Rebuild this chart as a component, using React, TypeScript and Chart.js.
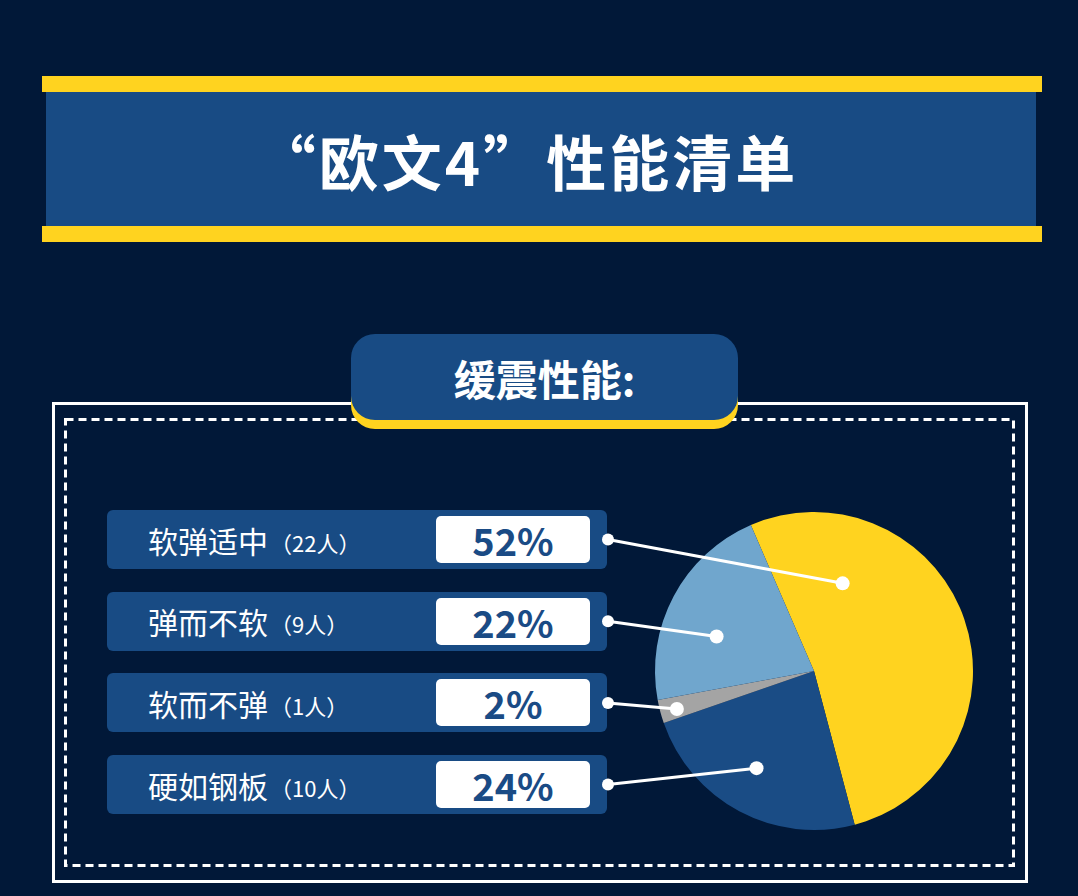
import { useEffect, useRef } from "react";
import { Chart, registerables } from "chart.js";

Chart.register(...registerables);

// rows, top to bottom
const categories = ["软弹适中", "弹而不软", "软而不弹", "硬如钢板"];
const counts = [22, 9, 1, 10];
const percents = ["52%", "22%", "2%", "24%"];
const sliceColors = ["#FFD31F", "#70A6CD", "#A4A4A4", "#1A4C85"];
// clockwise order of the slices, starting at the yellow one
const pieOrder = [0, 3, 2, 1];

const BG = "#011838";
const BLUE = "#184B84";
const YELLOW = "#FFD31F";

const ROW_TOP = 510;
const ROW_STEP = 81.7;
const ROW_H = 59;
const CANVAS_LEFT = 590;
const CANVAS_TOP = 500;

// where each leader line ends inside its slice: t = share of the slice angle, r = share of the radius
const anchors = [
  { t: 0.22, r: 0.58 },
  { t: 0.39, r: 0.65 },
  { t: 0.42, r: 0.895 },
  { t: 0.53, r: 0.71 }
];

const leaderLines = {
  id: "leaderLines",
  afterDatasetsDraw(chart: Chart) {
    const ctx = chart.ctx;
    const meta = chart.getDatasetMeta(0);
    meta.data.forEach((el, k) => {
      const row = pieOrder[k];
      const { x, y, startAngle, endAngle, outerRadius } = (el as any).getProps(
        ["x", "y", "startAngle", "endAngle", "outerRadius"],
        true
      );
      const a = startAngle + anchors[row].t * (endAngle - startAngle);
      const r = anchors[row].r * outerRadius;
      const px = x + Math.cos(a) * r;
      const py = y + Math.sin(a) * r;
      const lx = 608 - CANVAS_LEFT;
      const ly = ROW_TOP + row * ROW_STEP + ROW_H / 2 - CANVAS_TOP;
      ctx.save();
      ctx.strokeStyle = "#ffffff";
      ctx.fillStyle = "#ffffff";
      ctx.lineWidth = 3;
      ctx.beginPath();
      ctx.moveTo(lx, ly);
      ctx.lineTo(px, py);
      ctx.stroke();
      ctx.beginPath();
      ctx.arc(lx, ly, 6, 0, Math.PI * 2);
      ctx.fill();
      ctx.beginPath();
      ctx.arc(px, py, 7, 0, Math.PI * 2);
      ctx.fill();
      ctx.restore();
    });
  }
};

function PieChart() {
  const canvasRef = useRef<HTMLCanvasElement | null>(null);

  useEffect(() => {
    if (!canvasRef.current) {
      return undefined;
    }
    const chart = new Chart(canvasRef.current, {
      type: "pie",
      data: {
        labels: pieOrder.map((i) => categories[i]),
        datasets: [
          {
            data: pieOrder.map((i) => counts[i]),
            backgroundColor: pieOrder.map((i) => sliceColors[i]),
            borderWidth: 0
          }
        ]
      },
      options: {
        responsive: false,
        animation: false,
        rotation: -23.4,
        layout: { padding: { left: 65, right: 27, top: 12, bottom: 12 } },
        plugins: {
          legend: { display: false },
          tooltip: { enabled: false }
        }
      },
      plugins: [leaderLines]
    });
    return () => chart.destroy();
  }, []);

  return (
    <canvas
      ref={canvasRef}
      width={410}
      height={342}
      style={{ position: "absolute", left: CANVAS_LEFT, top: CANVAS_TOP, width: 410, height: 342 }}
    />
  );
}

const font = '"Noto Sans CJK SC", "Noto Sans", sans-serif';

export default function App() {
  return (
    <div
      style={{
        position: "absolute",
        left: 0,
        top: 0,
        width: 1078,
        height: 896,
        background: BG,
        overflow: "hidden",
        fontFamily: font,
        color: "#ffffff"
      }}
    >
      {/* title banner */}
      <div style={{ position: "absolute", left: 42, top: 76, width: 1000, height: 16, background: YELLOW }} />
      <div
        style={{
          position: "absolute",
          left: 46,
          top: 92,
          width: 990,
          height: 134,
          boxSizing: "border-box",
          paddingRight: 28,
          background: BLUE,
          display: "flex",
          alignItems: "center",
          justifyContent: "center",
          fontSize: 60,
          fontWeight: 700,
          letterSpacing: 3
        }}
      >
        “欧文4”性能清单
      </div>
      <div style={{ position: "absolute", left: 42, top: 226, width: 1000, height: 16, background: YELLOW }} />

      {/* frame */}
      <svg width={1078} height={896} style={{ position: "absolute", left: 0, top: 0 }}>
        <rect x={53.5} y={403.5} width={973} height={478} fill="none" stroke="#ffffff" strokeWidth={3} />
        <rect
          x={65.5}
          y={419.5}
          width={948}
          height={446}
          fill="none"
          stroke="#ffffff"
          strokeWidth={3}
          strokeDasharray="8 5"
        />
      </svg>

      {/* section tab */}
      <div
        style={{
          position: "absolute",
          left: 351,
          top: 342,
          width: 387,
          height: 87,
          background: YELLOW,
          borderRadius: 24
        }}
      />
      <div
        style={{
          position: "absolute",
          left: 351,
          top: 334,
          width: 387,
          height: 86,
          background: BLUE,
          borderRadius: 24,
          display: "flex",
          alignItems: "center",
          justifyContent: "center",
          fontSize: 42,
          fontWeight: 700
        }}
      >
        缓震性能:
      </div>

      {/* rows */}
      {categories.map((name, i) => (
        <div
          key={name}
          style={{
            position: "absolute",
            left: 107,
            top: ROW_TOP + i * ROW_STEP,
            width: 500,
            height: ROW_H,
            background: BLUE,
            borderRadius: 6
          }}
        >
          <div
            style={{
              position: "absolute",
              left: 41,
              top: 0,
              height: ROW_H,
              display: "flex",
              alignItems: "center",
              whiteSpace: "nowrap"
            }}
          >
            <span style={{ fontSize: 30 }}>{name}</span>
            <span style={{ fontSize: 22, marginLeft: 2, marginTop: 4 }}>（{counts[i]}人）</span>
          </div>
          <div
            style={{
              position: "absolute",
              left: 329,
              top: 6,
              width: 154,
              height: 47,
              background: "#ffffff",
              borderRadius: 5,
              display: "flex",
              alignItems: "center",
              justifyContent: "center",
              color: "#1A4B85",
              fontSize: 38,
              fontWeight: 700
            }}
          >
            {percents[i]}
          </div>
        </div>
      ))}

      <PieChart />
    </div>
  );
}
